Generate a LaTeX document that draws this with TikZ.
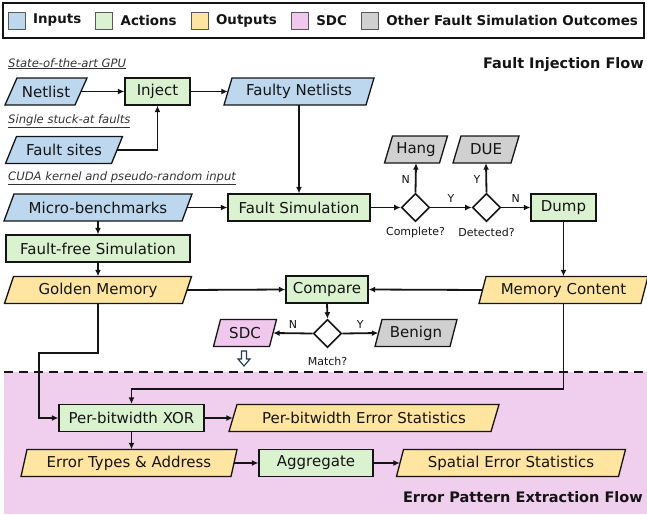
\documentclass[tikz,border=0pt]{standalone}
\usepackage{fontspec}
\setmainfont{DejaVu Sans}
\usetikzlibrary{arrows.meta,shapes.geometric}
\definecolor{cin}{RGB}{189,215,238}
\definecolor{cact}{RGB}{218,242,208}
\definecolor{cout}{RGB}{255,229,160}
\definecolor{csdc}{RGB}{240,200,238}
\definecolor{coth}{RGB}{208,208,208}
\definecolor{cbg}{RGB}{240,206,238}
\definecolor{ink}{RGB}{20,20,20}
\definecolor{navy}{RGB}{30,55,85}
\tikzset{
  ntext/.style={inner sep=0pt, minimum height=27pt, font=\fontsize{15}{18}\selectfont, text=ink},
  pshape/.style={draw=ink, line width=1.3pt, line join=miter},
  abox/.style={ntext, draw=ink, fill=cact, line width=1.3pt},
  dia/.style={diamond, draw=ink, fill=white, line width=1.6pt, minimum width=28pt, minimum height=28pt, inner sep=0pt},
  conn/.style={draw=ink, line width=1.8pt, -{Latex[length=6.5pt,width=6pt]}},
  lbl/.style={font=\fontsize{11}{13}\selectfont, text=ink, inner sep=0pt},
  ilbl/.style={font=\fontsize{11.6}{14}\itshape, text=black!80, inner sep=0pt},
  ttl/.style={font=\fontsize{14.5}{17}\bfseries, text=ink, inner sep=0pt},
  lsq/.style={draw=black!65, line width=1pt, minimum width=17pt, minimum height=17pt, inner sep=0pt},
  ltxt/.style={font=\fontsize{13.4}{16}\bfseries, text=ink, inner sep=0pt}
}
% name, cx, cy, mid width, slant, fill, text
\newcommand\pgram[7]{%
  \filldraw[pshape, fill=#6] ({#2-#4/2-#5/2},{#3+13.5}) -- ({#2-#4/2+#5/2},{#3-13.5}) -- ({#2+#4/2+#5/2},{#3-13.5}) -- ({#2+#4/2-#5/2},{#3+13.5}) -- cycle;
  \node[ntext, minimum width=#4pt] (#1) at (#2,#3) {#7};}
\begin{document}
\begin{tikzpicture}[x=1pt,y=-1pt]
\useasboundingbox (0,0) rectangle (647,514);
% lower region
\fill[cbg] (4,372) rectangle (647,514);
\draw[draw=ink, line width=2pt, dash pattern=on 9pt off 6pt] (4,372) -- (647,372);
% legend
\draw[draw=ink, line width=1.5pt] (3,3) rectangle (644,38);
\node[lsq, fill=cin] (l1) at (17,20.5) {};
\node[ltxt, anchor=west] (t1) at ([xshift=7pt]l1.east) {Inputs};
\node[lsq, fill=cact, anchor=west] (l2) at ([xshift=14pt]t1.east) {};
\node[ltxt, anchor=west] (t2) at ([xshift=7pt]l2.east) {Actions};
\node[lsq, fill=cout, anchor=west] (l3) at ([xshift=14pt]t2.east) {};
\node[ltxt, anchor=west] (t3) at ([xshift=7pt]l3.east) {Outputs};
\node[lsq, fill=csdc, anchor=west] (l4) at ([xshift=14pt]t3.east) {};
\node[ltxt, anchor=west] (t4) at ([xshift=7pt]l4.east) {SDC};
\node[lsq, fill=coth, anchor=west] (l5) at ([xshift=14pt]t4.east) {};
\node[ltxt, anchor=west] (t5) at ([xshift=7pt]l5.east) {Other Fault Simulation Outcomes};
% titles and notes
\node[ttl, anchor=east] (ttl1) at (644,65) {Fault Injection Flow};
\node[ttl, anchor=east] (ttl2) at (643,497) {Error Pattern Extraction Flow};
\node[ilbl, anchor=base west] (n1) at (8,67) {\underline{State-of-the-art GPU}};
\node[ilbl, anchor=base west] (n2) at (8,123) {\underline{Single stuck-at faults}};
\node[ilbl, anchor=base west] (n3) at (8,180) {\underline{CUDA kernel and pseudo-random input}};
% nodes
\pgram{netlist}{46}{91.5}{70}{12}{cin}{Netlist}
\node[abox, minimum width=65pt] (inject) at (157.5,91.5) {Inject};
\pgram{faulty}{299}{91.5}{142}{8}{cin}{Faulty Netlists}
\pgram{faultsites}{64}{150}{106}{11}{cin}{Fault sites}
\pgram{hang}{416}{149.5}{55}{8}{coth}{Hang}
\pgram{due}{486}{149.5}{58}{8}{coth}{DUE}
\pgram{micro}{98}{207.5}{178}{10}{cin}{Micro-benchmarks}
\node[abox, minimum width=142pt] (faultsim) at (299,207.5) {Fault Simulation};
\node[dia] (complete) at (415.5,207.5) {};
\node[dia] (detected) at (486.5,207.5) {};
\node[abox, minimum width=65pt] (dump) at (563.5,207.5) {Dump};
\node[abox, minimum width=184pt] (faultfree) at (98,248.5) {Fault-free Simulation};
\pgram{golden}{98}{290}{178}{9}{cout}{Golden Memory}
\node[abox, minimum width=82pt] (compare) at (327,289.5) {Compare};
\pgram{memcontent}{563.5}{290}{162}{7}{cout}{Memory Content}
\node[dia] (match) at (327.5,333.5) {};
\pgram{sdc}{245}{333}{56}{7}{csdc}{SDC}
\pgram{benign}{416}{333}{75}{7}{coth}{Benign}
\node[abox, minimum width=145pt] (xor) at (131.5,418) {Per-bitwidth XOR};
\pgram{pbstats}{364}{418}{262}{8}{cout}{Per-bitwidth Error Statistics}
\pgram{errtypes}{129}{463}{210}{6}{cout}{Error Types \& Address}
\node[abox, minimum width=114pt] (aggregate) at (316,463) {Aggregate};
\pgram{spatial}{511}{463}{222}{7}{cout}{Spatial Error Statistics}
% decision labels
\node[lbl] (lc) at (415.5,232) {Complete?};
\node[lbl] (ld) at (486.5,232) {Detected?};
\node[lbl] (lm) at (327.5,361) {Match?};
% connectors
\draw[conn] (netlist.east) -- (inject.west);
\draw[conn] (inject.east) -- (faulty.west);
\draw[conn] (faultsites.east) -| (inject.south);
\draw[conn] (faulty.south) -- (faultsim.north);
\draw[conn] (micro.east) -- (faultsim.west);
\draw[conn] (micro.south) -- (faultfree.north);
\draw[conn] (faultfree.south) -- (golden.north);
\draw[conn] (faultsim.east) -- (complete.west);
\draw[conn] (complete.north) -- node[lbl, left=5pt, pos=0.45] {N} (hang.south);
\draw[conn] (complete.east) -- node[lbl, above=4pt] {Y} (detected.west);
\draw[conn] (detected.north) -- node[lbl, left=5pt, pos=0.45] {Y} (due.south);
\draw[conn] (detected.east) -- node[lbl, above=4pt] {N} (dump.west);
\draw[conn] (dump.south) -- (memcontent.north);
\draw[conn] (golden.east) -- (compare.west);
\draw[conn] (memcontent.west) -- (compare.east);
\draw[conn] (compare.south) -- (match.north);
\draw[conn] (match.west) -- node[lbl, above=4pt] {N} (sdc.east);
\draw[conn] (match.east) -- node[lbl, above=4pt] {Y} (benign.west);
\draw[conn] (golden.south) |- (39,353) |- (xor.west);
\draw[conn] (memcontent.south) |- (xor.north |- 0,389) -- (xor.north);
\draw[conn] (xor.east) -- (pbstats.west);
\draw[conn] (xor.south) -- (xor.south |- errtypes.north);
\draw[conn] (errtypes.east) -- (aggregate.west);
\draw[conn] (aggregate.east) -- (spatial.west);
% SDC hollow arrow
\coordinate (sa) at (244,351);
\draw[draw=navy, fill=white, line width=1.1pt, line join=miter, shift={(sa)}] (-2.5,0) -- (2.5,0) -- (2.5,8) -- (6,8) -- (0,15) -- (-6,8) -- (-2.5,8) -- cycle;
\end{tikzpicture}
\end{document}
